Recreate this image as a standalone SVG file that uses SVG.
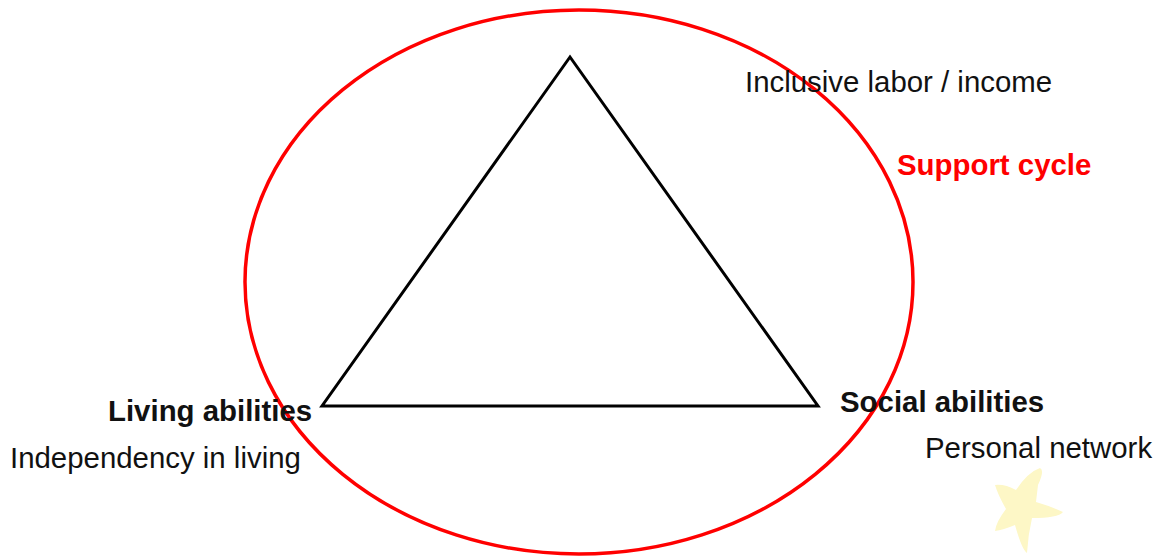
<svg xmlns="http://www.w3.org/2000/svg" width="1164" height="557" viewBox="0 0 1164 557">
<style>
.t{font-family:"Liberation Sans",Arial,sans-serif;font-size:29.4px;fill:#111}
.b{font-weight:bold}
</style>
<rect width="1164" height="557" fill="#fff"/>
<g id="connectors">
<polygon id="triangle" points="570,57 322,406 818,406" fill="none" stroke="#000" stroke-width="3" stroke-linejoin="miter"/>
</g>
<g id="support-cycle">
<ellipse cx="579" cy="282" rx="334" ry="272" fill="none" stroke="#ff0000" stroke-width="3.5"/>
<text class="t b" x="897" y="175" style="fill:#ff0000">Support cycle</text>
</g>
<g id="top-node">
<text class="t" x="745" y="92">Inclusive labor / income</text>
</g>
<g id="living-node">
<text class="t b" x="108" y="421">Living abilities</text>
<text class="t" x="10" y="468">Independency in living</text>
</g>
<g id="social-node">
<text class="t b" x="840" y="412">Social abilities</text>
<text class="t" x="925" y="458">Personal network</text>
</g>
<g id="star">
<path d="M1040,468 Q1045,470 1038,485 L1036,502 Q1050,506 1063,512 Q1058,518 1032,518 Q1028,535 1027,553 Q1022,550 1015,525 Q1003,530 995,531 Q996,522 1006,509 Q998,495 995,485 Q1005,484 1016,490 Q1028,472 1040,468 Z" fill="#fdf7c6"/>
</g>
</svg>
